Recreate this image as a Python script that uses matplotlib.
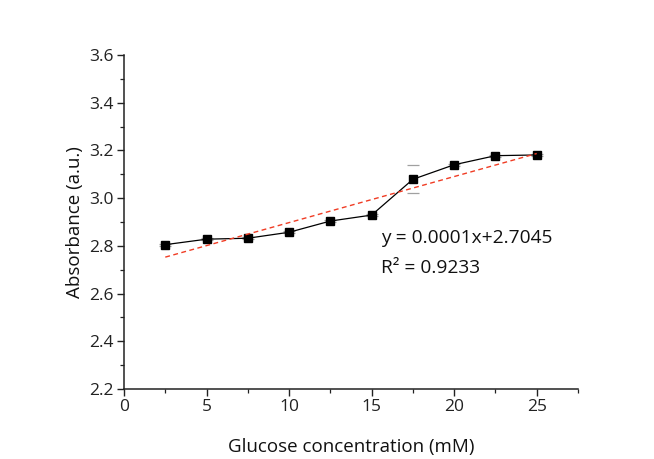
import matplotlib
matplotlib.use("Agg")
import matplotlib.pyplot as plt
from matplotlib.ticker import MultipleLocator
import numpy as np

# Data
concentration = [2.5, 5, 7.5, 10, 12.5, 15, 17.5, 20, 22.5, 25]
absorbance = [2.805, 2.828, 2.832, 2.857, 2.904, 2.929, 3.079, 3.140, 3.178, 3.181]
errors = [0.004, 0.004, 0.004, 0.004, 0.004, 0.004, 0.058, 0.004, 0.004, 0.004]
fit_slope = 0.0193
fit_intercept = 2.7045
eq_text = "y = 0.0001x+2.7045"
r2_text = "R\u00b2 = 0.9233"
x_label = "Glucose concentration (mM)"
y_label = "Absorbance (a.u.)"

plt.rcParams['font.family'] = ['Open Sans', 'DejaVu Sans']

fig = plt.figure(figsize=(6.54, 4.59), dpi=100)
ax = fig.add_axes([124/654, 1-389/459, (578-124)/654, (389-55)/459])

x = np.array(concentration)
y = np.array(absorbance)

ax.errorbar(x, y, yerr=errors, fmt='none', ecolor='#a0a0a0', elinewidth=0,
            capsize=4, capthick=0.9, zorder=2)
ax.plot(x, y, color='black', lw=0.9, marker='s', markersize=5.5,
        markerfacecolor='black', markeredgecolor='black', zorder=3)

xf = np.array([x.min(), x.max()])
ax.plot(xf, fit_slope * xf + fit_intercept, color='#f03c24', lw=1.0,
        linestyle=(0, (3.5, 2.5)), zorder=4)

ax.text(15.55, 2.833, eq_text, fontsize=13.8, va='center', ha='left', color='#111111')
ax.text(15.55, 2.707, r2_text, fontsize=13.8, va='center', ha='left', color='#111111')

ax.set_xlim(0, 27.5)
ax.set_ylim(2.2, 3.6)
ax.xaxis.set_major_locator(MultipleLocator(5))
ax.xaxis.set_minor_locator(MultipleLocator(2.5))
ax.yaxis.set_major_locator(MultipleLocator(0.2))
ax.yaxis.set_minor_locator(MultipleLocator(0.1))
ax.yaxis.set_major_formatter(plt.FormatStrFormatter('%.1f'))

for s in ['top', 'right']:
    ax.spines[s].set_visible(False)
for s in ['left', 'bottom']:
    ax.spines[s].set_linewidth(1.1)
    ax.spines[s].set_color('#222222')

ax.tick_params(which='major', direction='out', length=5, width=1.0,
               labelsize=12.5, pad=2.5, colors='#222222')
ax.tick_params(which='minor', direction='out', length=3, width=0.9, colors='#222222')

ax.set_xlabel(x_label, fontsize=13.5, labelpad=16, color='#111111')
ax.set_ylabel(y_label, fontsize=13.5, labelpad=4, color='#111111')

fig.savefig("out.png", dpi=100)
